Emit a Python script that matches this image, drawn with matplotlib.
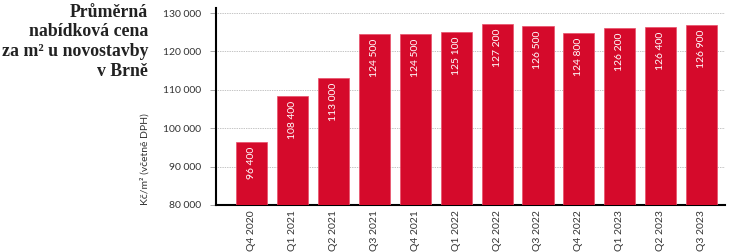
import matplotlib
matplotlib.use("Agg")
import matplotlib.pyplot as plt

quarters = ["Q4 2020", "Q1 2021", "Q2 2021", "Q3 2021", "Q4 2021", "Q1 2022",
            "Q2 2022", "Q3 2022", "Q4 2022", "Q1 2023", "Q2 2023", "Q3 2023"]
prices = [96400, 108400, 113000, 124500, 124500, 125100,
          127200, 126500, 124800, 126200, 126400, 126900]
yticks = [80000, 90000, 100000, 110000, 120000, 130000]

title = "Průměrná\nnabídková cena\nza m² u novostavby\nv Brně"
ylabel = "Kč/m² (včetně DPH)"

def fmt(v):
    return f"{v:,}".replace(",", " ")

plt.rcParams["font.family"] = ["Lato", "DejaVu Sans"]
red = "#d50a2b"

fig = plt.figure(figsize=(7.3, 2.52), dpi=100)
ax = fig.add_axes([0.296, 0.187, 0.697, 0.781])

x = range(len(quarters))
ax.bar(x, prices, width=0.76, color=red, edgecolor="#e8506a", linewidth=0.5, zorder=3)
for i, v in zip(x, prices):
    ax.text(i, v - 1200, fmt(v), rotation=90, ha="center", va="top",
            color="white", fontsize=7.5, zorder=4)

ax.set_xlim(-0.87, 11.57)
ax.set_ylim(80000, 131300)
ax.set_yticks(yticks)
ax.set_yticklabels([fmt(t) for t in yticks], fontsize=7.5, color="#333333")
ax.set_xticks(list(x))
ax.set_xticklabels(quarters, rotation=90, fontsize=7.5, color="#333333")
ax.tick_params(axis="x", length=0, pad=4)
ax.tick_params(axis="y", length=4, width=0.6, color="#999999", pad=7, direction="out")

ax.grid(axis="y", linestyle=(0, (1, 1.5)), color="#888888", linewidth=0.5, zorder=0)
for s in ["top", "right"]:
    ax.spines[s].set_visible(False)
ax.spines["left"].set_linewidth(1.5)
ax.spines["bottom"].set_linewidth(1.5)

ax.set_ylabel(ylabel, fontsize=7.5, color="#333333")
ax.yaxis.set_label_coords(-0.13, 0.235)

fig.text(0.203, 0.985, title, ha="right", va="top", fontsize=12.8,
         fontweight="bold", family="Liberation Serif", color="#222222",
         linespacing=1.2)

fig.savefig("out.png", dpi=100)
